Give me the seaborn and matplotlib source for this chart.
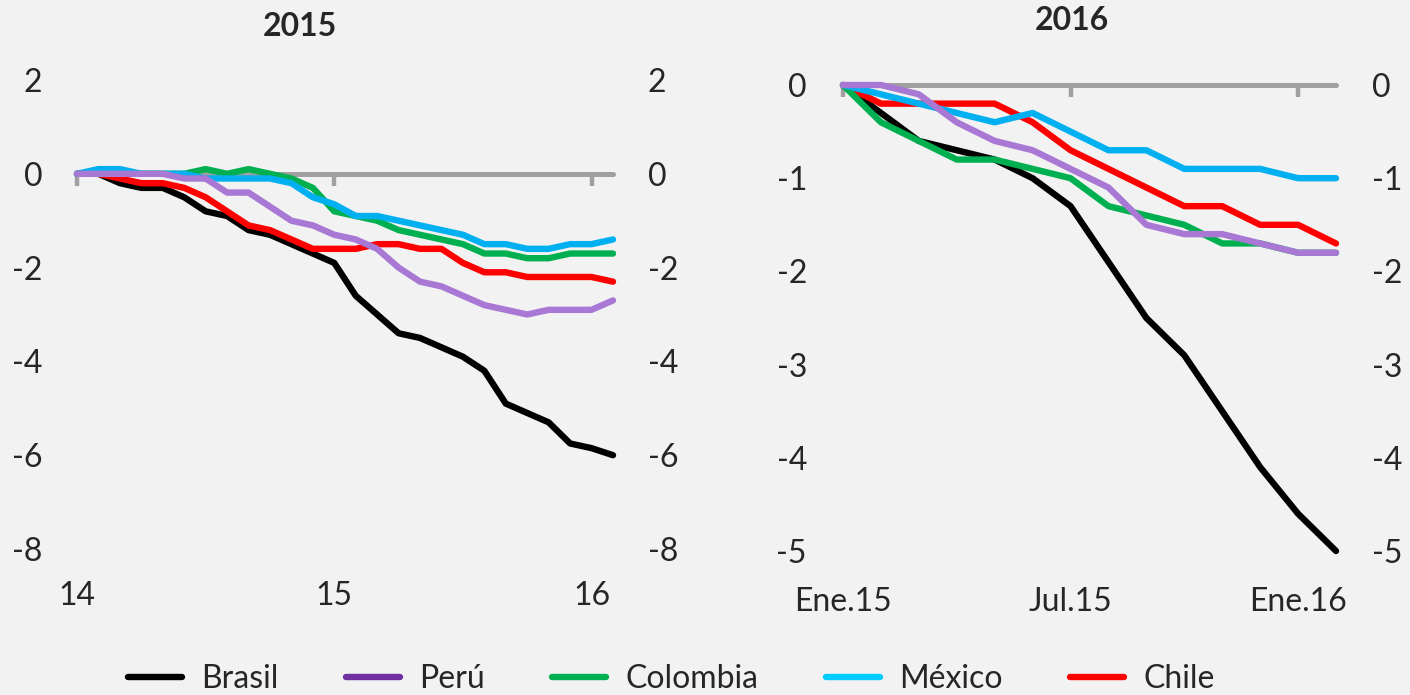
import numpy as np
import pandas as pd
import matplotlib
matplotlib.use("Agg")
import matplotlib.pyplot as plt
from matplotlib.lines import Line2D
import seaborn as sns

# ---------------- data ----------------
series_names = ["Brasil", "Perú", "Colombia", "México", "Chile"]

# 2015 panel: monthly, Jan-2014 .. Feb-2016
months_2015 = list(range(26))
ticks_2015 = [0, 12, 24]
ticklabels_2015 = ["14", "15", "16"]
brasil_2015 = [0, 0, -0.2, -0.3, -0.3, -0.5, -0.8, -0.9, -1.2, -1.3, -1.5, -1.7, -1.9,
               -2.6, -3.0, -3.4, -3.5, -3.7, -3.9, -4.2, -4.9, -5.1, -5.3, -5.75, -5.85, -6.0]
peru_2015 = [0, 0, 0, 0, 0, -0.1, -0.1, -0.4, -0.4, -0.7, -1.0, -1.1, -1.3,
             -1.4, -1.6, -2.0, -2.3, -2.4, -2.6, -2.8, -2.9, -3.0, -2.9, -2.9, -2.9, -2.7]
colombia_2015 = [0, 0, 0, 0, 0, 0, 0.1, 0, 0.1, 0, -0.1, -0.3, -0.8,
                 -0.9, -1.0, -1.2, -1.3, -1.4, -1.5, -1.7, -1.7, -1.8, -1.8, -1.7, -1.7, -1.7]
mexico_2015 = [0, 0.1, 0.1, 0, 0, 0, -0.1, -0.1, -0.1, -0.1, -0.2, -0.5, -0.65,
               -0.9, -0.9, -1.0, -1.1, -1.2, -1.3, -1.5, -1.5, -1.6, -1.6, -1.5, -1.5, -1.4]
chile_2015 = [0, 0, -0.1, -0.2, -0.2, -0.3, -0.5, -0.8, -1.1, -1.2, -1.4, -1.6, -1.6,
              -1.6, -1.5, -1.5, -1.6, -1.6, -1.9, -2.1, -2.1, -2.2, -2.2, -2.2, -2.2, -2.3]

# 2016 panel: monthly, Jan-2015 .. Feb-2016
months_2016 = list(range(14))
ticks_2016 = [0, 6, 12]
ticklabels_2016 = ["Ene.15", "Jul.15", "Ene.16"]
brasil_2016 = [0, -0.3, -0.6, -0.7, -0.8, -1.0, -1.3, -1.9, -2.5, -2.9, -3.5, -4.1, -4.6, -5.0]
peru_2016 = [0, 0, -0.1, -0.4, -0.6, -0.7, -0.9, -1.1, -1.5, -1.6, -1.6, -1.7, -1.8, -1.8]
colombia_2016 = [0, -0.4, -0.6, -0.8, -0.8, -0.9, -1.0, -1.3, -1.4, -1.5, -1.7, -1.7, -1.8, -1.8]
mexico_2016 = [0, -0.1, -0.2, -0.3, -0.4, -0.3, -0.5, -0.7, -0.7, -0.9, -0.9, -0.9, -1.0, -1.0]
chile_2016 = [0, -0.2, -0.2, -0.2, -0.2, -0.4, -0.7, -0.9, -1.1, -1.3, -1.3, -1.5, -1.5, -1.7]

line_colors = {"Brasil": "#000000", "Perú": "#A878D4", "Colombia": "#00B050",
               "México": "#00B0F0", "Chile": "#FF0000"}
legend_colors = {"Brasil": "#000000", "Perú": "#7030A0", "Colombia": "#00B050",
                 "México": "#00CCFF", "Chile": "#FF0000"}
draw_order = ["Brasil", "Chile", "Colombia", "México", "Perú"]


def long_frame(x, values):
    rows = []
    for name, vals in zip(series_names, values):
        for xi, v in zip(x, vals):
            rows.append({"mes": xi, "valor": v, "pais": name})
    return pd.DataFrame(rows)


df15 = long_frame(months_2015, [brasil_2015, peru_2015, colombia_2015, mexico_2015, chile_2015])
df16 = long_frame(months_2016, [brasil_2016, peru_2016, colombia_2016, mexico_2016, chile_2016])

# ---------------- style ----------------
BG = "#F2F2F2"
sns.set_theme(style="white", rc={"axes.facecolor": BG, "figure.facecolor": BG})
plt.rcParams["font.family"] = ["Lato", "DejaVu Sans"]
FS = 23

fig = plt.figure(figsize=(14.1, 6.95), dpi=100)
ax1 = fig.add_axes([77 / 1410, 146 / 695, 536 / 1410, 469 / 695])
ax2 = fig.add_axes([843 / 1410, 144 / 695, 493 / 1410, 466 / 695])


def style_axis(ax, df, x, ticks, ticklabels, ylim, yticks, ypad, xpad):
    for name in draw_order:
        sub = df[df["pais"] == name]
        sns.lineplot(data=sub, x="mes", y="valor", ax=ax, color=line_colors[name],
                     linewidth=4.6, legend=False, zorder=3 + draw_order.index(name),
                     solid_capstyle="round", solid_joinstyle="round", clip_on=False)
    ax.set_xlim(x[0], x[-1])
    ax.set_ylim(*ylim)
    # zero axis line with tick marks
    ax.axhline(0, color="#A0A0A0", linewidth=3.6, zorder=2, clip_on=False)
    tlen = (ylim[1] - ylim[0]) * 0.025
    ax.vlines(ticks, -tlen, 0, color="#A0A0A0", linewidth=3.2, zorder=2, clip_on=False)
    ax.set_xticks(ticks)
    ax.set_xticklabels(ticklabels)
    ax.set_yticks(yticks)
    ax.set_yticklabels([f"{v:g}" if v >= 0 else f"-{abs(v):g}" for v in yticks])
    ax.tick_params(axis="y", length=0, labelsize=FS, labelleft=True,
                   labelright=True, pad=ypad)
    ax.tick_params(axis="x", length=0, labelsize=FS, pad=xpad)
    for s in ax.spines.values():
        s.set_visible(False)
    ax.set_xlabel("")
    ax.set_ylabel("")
    ax.grid(False)


style_axis(ax1, df15, months_2015, ticks_2015, ticklabels_2015, (-8, 2),
           [2, 0, -2, -4, -6, -8], 25, 23)
style_axis(ax2, df16, months_2016, ticks_2016, ticklabels_2016, (-5, 0),
           [0, -1, -2, -3, -4, -5], 26, 26)

fig.text(300 / 1410, 1 - 27 / 695, "2015", ha="center", va="center",
         fontsize=FS, fontweight="bold")
fig.text(1072 / 1410, 1 - 20 / 695, "2016", ha="center", va="center",
         fontsize=FS, fontweight="bold")

handles = [Line2D([0], [0], color=legend_colors[n], linewidth=4.6) for n in series_names]
fig.legend(handles, series_names, loc="center", bbox_to_anchor=(0.476, 1 - 679 / 695),
           ncol=5, frameon=False, fontsize=FS, handlelength=1.7, handletextpad=0.6,
           columnspacing=2.1)

fig.savefig("out.png", dpi=100, facecolor=BG)
